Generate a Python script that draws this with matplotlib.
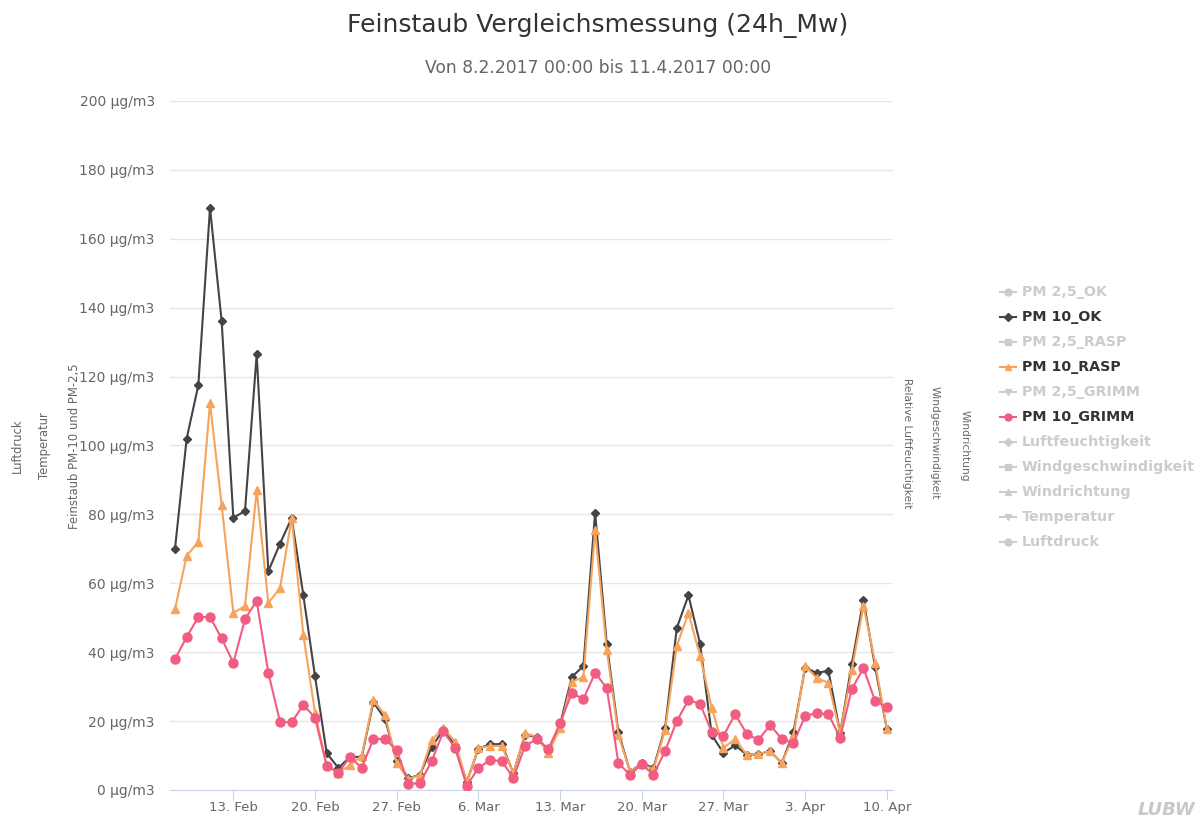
import matplotlib
matplotlib.use("Agg")
import matplotlib.pyplot as plt
import matplotlib.dates as mdates
from matplotlib.lines import Line2D
from matplotlib.ticker import FuncFormatter, MultipleLocator
import pandas as pd

plt.rcParams['font.family'] = ['DejaVu Sans']

# daily means 8.2.2017 - 10.4.2017
dates = pd.date_range("2017-02-08", "2017-04-10", freq="D")

pm10_ok = [70, 102, 117.5, 169, 136, 79, 81, 126.5, 63.5, 71.5,
           79, 56.5, 33, 10.7, 6.4, 9.6, 9.6, 25.5, 20.6, 8.5,
           3.4, 4.4, 12.5, 17.5, 13, 2.3, 12, 13.3, 13.3, 4.9,
           16, 15.4, 11.3, 19, 32.8, 36, 80.5, 42.4, 16.8, 5.2,
           7.8, 6.4, 18, 47, 56.5, 42.4, 16, 10.7, 13, 10.2,
           10.4, 11.3, 7.8, 16.8, 35.5, 34, 34.6, 16.5, 36.6, 55.2,
           35.7, 17.7]
pm10_rasp = [52.5, 68, 72, 112.3, 82.7, 51.4, 53.4, 87, 54.3, 58.6,
             79, 45, 22.4, 7.2, 5, 7.2, 10, 26.1, 21.8, 7.8,
             3.2, 4.4, 14.5, 18, 14, 2.3, 12.2, 12.8, 12.8, 4.9,
             16.5, 15.4, 10.7, 18, 31.4, 32.8, 75.5, 40.6, 16, 5.2,
             7.5, 6, 17.4, 41.8, 51.4, 38.9, 23.8, 12.2, 14.8, 10.2,
             10.4, 11.3, 7.8, 15.7, 36, 32.5, 31.1, 16.5, 34.8, 53.5,
             37, 17.7]
pm10_grimm = [38, 44.4, 50.2, 50.2, 44, 36.9, 49.6, 54.9, 34, 19.8,
              19.7, 24.7, 21, 7, 5, 9.6, 6.4, 14.8, 14.8, 11.6,
              1.8, 2, 8.4, 17, 12.2, 1.2, 6.4, 8.7, 8.4, 3.5,
              12.8, 14.8, 11.9, 19.4, 28.1, 26.4, 34, 29.6, 7.8, 4.4,
              7.5, 4.4, 11.3, 20, 26.1, 25, 16.8, 15.7, 22, 16.3,
              14.5, 18.9, 14.8, 13.6, 21.5, 22.3, 22, 15.1, 29.3, 35.4,
              25.8, 24.1]

legend_names = ["PM 2,5_OK", "PM 10_OK", "PM 2,5_RASP", "PM 10_RASP", "PM 2,5_GRIMM",
                "PM 10_GRIMM", "Luftfeuchtigkeit", "Windgeschwindigkeit", "Windrichtung",
                "Temperatur", "Luftdruck"]
legend_markers = ["o", "D", "s", "^", "v", "o", "D", "s", "^", "v", "o"]
visible = {"PM 10_OK": "#434348", "PM 10_RASP": "#f7a35c", "PM 10_GRIMM": "#f15c80"}

fig = plt.figure(figsize=(12.03, 8.23), dpi=100)
ax = fig.add_axes([0.1413, 0.0401, 0.6010, 0.8372])

ax.plot(dates, pm10_ok, color="#434348", lw=1.5, marker="D", ms=3.8, zorder=3)
ax.plot(dates, pm10_rasp, color="#f7a35c", lw=1.5, marker="^", ms=5.5, zorder=4)
ax.plot(dates, pm10_grimm, color="#f15c80", lw=1.5, marker="o", ms=6.5, zorder=5)

ax.set_ylim(0, 200)
ax.set_xlim(dates[0] - pd.Timedelta(hours=10.3), dates[-1] + pd.Timedelta(hours=12.7))
ax.yaxis.set_major_locator(MultipleLocator(20))
ax.yaxis.set_major_formatter(FuncFormatter(lambda v, p: f"{v:.0f} µg/m3"))
ax.xaxis.set_major_locator(mdates.WeekdayLocator(byweekday=mdates.MO))
ax.xaxis.set_major_formatter(FuncFormatter(
    lambda v, p: f"{mdates.num2date(v).day}. {mdates.num2date(v).strftime('%b')}"))

ax.grid(axis="y", color="#e6e6e6", lw=1)
ax.set_axisbelow(True)
for s in ["top", "right", "left"]:
    ax.spines[s].set_visible(False)
ax.spines["bottom"].set_color("#ccd6eb")
ax.tick_params(axis="y", length=0, pad=11, labelsize=10, labelcolor="#666666")
ax.tick_params(axis="x", length=7, color="#ccd6eb", pad=1, labelsize=9.5, labelcolor="#666666")

fig.text(0.497, 0.9696, "Feinstaub Vergleichsmessung (24h_Mw)", fontsize=18,
         color="#333333", ha="center", va="center")
fig.text(0.497, 0.9174, "Von 8.2.2017 00:00 bis 11.4.2017 00:00", fontsize=12.3,
         color="#666666", ha="center", va="center")

# axis titles of the (empty) extra axes
fig.text(0.0623, 0.458, "Feinstaub PM-10 und PM-2,5", rotation=90, fontsize=8.4,
         color="#666666", ha="center", va="center")
fig.text(0.0374, 0.458, "Temperatur", rotation=90, fontsize=8.4, color="#666666",
         ha="center", va="center")
fig.text(0.0141, 0.458, "Luftdruck", rotation=90, fontsize=8.4, color="#666666",
         ha="center", va="center")
fig.text(0.754, 0.462, "Relative Luftfeuchtigkeit", rotation=270, fontsize=7.7,
         color="#666666", ha="center", va="center")
fig.text(0.777, 0.462, "Windgeschwindigkeit", rotation=270, fontsize=7.7,
         color="#666666", ha="center", va="center")
fig.text(0.802, 0.458, "Windrichtung", rotation=270, fontsize=7.7,
         color="#666666", ha="center", va="center")

# legend
for k, name in enumerate(legend_names):
    y = 1 - (292 + 25 * k) / 823
    col = visible.get(name, "#cccccc")
    tcol = "#333333" if name in visible else "#cccccc"
    fig.add_artist(Line2D([1000 / 1203, 1016 / 1203], [y, y], transform=fig.transFigure,
                          color=col, lw=1.5))
    fig.add_artist(Line2D([1008 / 1203], [y], transform=fig.transFigure, color=col,
                          marker=legend_markers[k], ms=5 if legend_markers[k] != "D" else 4))
    fig.text(1022 / 1203, y, name, fontsize=10.3, fontweight="bold", color=tcol,
             ha="left", va="center")

fig.text(0.970, 0.0158, "LUBW", fontsize=13, fontweight="bold", style="italic",
         color="#c8c8c8", ha="center", va="center")

fig.savefig("out.png", dpi=100)
